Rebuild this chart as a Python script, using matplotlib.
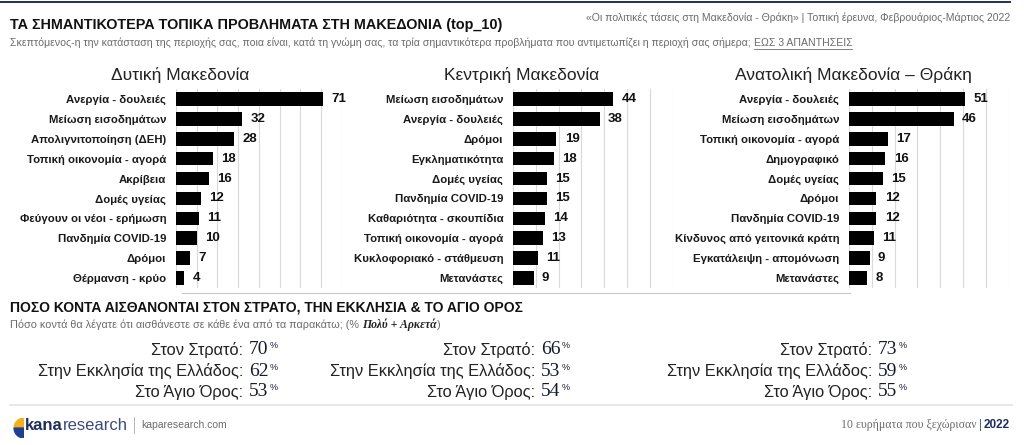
import matplotlib
matplotlib.use("Agg")
import matplotlib.pyplot as plt
from matplotlib import font_manager
from matplotlib.patches import Wedge

# --- data ---
west_labels = ["Ανεργία - δουλειές", "Μείωση εισοδημάτων", "Απολιγνιτοποίηση (ΔΕΗ)",
               "Τοπική οικονομία - αγορά", "Ακρίβεια", "Δομές υγείας",
               "Φεύγουν οι νέοι - ερήμωση", "Πανδημία COVID-19", "Δρόμοι", "Θέρμανση - κρύο"]
west_values = [71, 32, 28, 18, 16, 12, 11, 10, 7, 4]

central_labels = ["Μείωση εισοδημάτων", "Ανεργία - δουλειές", "Δρόμοι", "Εγκληματικότητα",
                  "Δομές υγείας", "Πανδημία COVID-19", "Καθαριότητα - σκουπίδια",
                  "Τοπική οικονομία - αγορά", "Κυκλοφοριακό - στάθμευση", "Μετανάστες"]
central_values = [44, 38, 19, 18, 15, 15, 14, 13, 11, 9]

east_labels = ["Ανεργία - δουλειές", "Μείωση εισοδημάτων", "Τοπική οικονομία - αγορά",
               "Δημογραφικό", "Δομές υγείας", "Δρόμοι", "Πανδημία COVID-19",
               "Κίνδυνος από γειτονικά κράτη", "Εγκατάλειψη - απομόνωση", "Μετανάστες"]
east_values = [51, 46, 17, 16, 15, 12, 12, 11, 9, 8]

region_titles = ["Δυτική Μακεδονία", "Κεντρική Μακεδονία", "Ανατολική Μακεδονία – Θράκη"]
region_xmax = [80, 70, 70]

close_labels = ["Στον Στρατό:", "Στην Εκκλησία της Ελλάδος:", "Στο Άγιο Όρος:"]
west_close = [70, 62, 53]
central_close = [66, 53, 54]
east_close = [73, 59, 55]

# --- fonts ---
available = {f.name for f in font_manager.fontManager.ttflist}
NARROW = "Liberation Sans Narrow" if "Liberation Sans Narrow" in available else "Liberation Sans"
SANS = "Liberation Sans"
SERIF = "Liberation Serif"
plt.rcParams["font.family"] = [SANS, "DejaVu Sans"]

W, H = 1024, 445
fig = plt.figure(figsize=(W / 100, H / 100), dpi=100)
fig.patch.set_facecolor("white")


def fx(x):
    return x / W


def fy(y):
    return 1 - y / H


navy = "#1f2f5c"
gray = "#6b6b6b"

# top rule
fig.add_artist(plt.Line2D([0, fx(1010)], [fy(2), fy(2)], color=navy, lw=1.4))

fig.text(fx(10), fy(25), "ΤΑ ΣΗΜΑΝΤΙΚΟΤΕΡΑ ΤΟΠΙΚΑ ΠΡΟΒΛΗΜΑΤΑ ΣΤΗ ΜΑΚΕΔΟΝΙΑ (top_10)",
         family=[NARROW, "DejaVu Sans"], weight="bold", fontsize=10.4, color="#111",
         va="center", ha="left")
fig.text(fx(1010), fy(18),
         "«Οι πολιτικές τάσεις στη Μακεδονία - Θράκη» | Τοπική έρευνα, Φεβρουάριος-Μάρτιος 2022",
         family=[NARROW, "DejaVu Sans"], fontsize=7.6, color=gray, va="center", ha="right")
sub = fig.text(fx(10), fy(43),
               "Σκεπτόμενος-η την κατάσταση της περιοχής σας, ποια είναι, κατά τη γνώμη σας, "
               "τα τρία σημαντικότερα προβλήματα που αντιμετωπίζει η περιοχή σας σήμερα; ",
               family=[NARROW, "DejaVu Sans"], fontsize=7.6, color=gray, va="center", ha="left")

fig.canvas.draw()
renderer = fig.canvas.get_renderer()
bb = sub.get_window_extent(renderer)
und = fig.text(bb.x1 / W, fy(43), "ΕΩΣ 3 ΑΠΑΝΤΗΣΕΙΣ", family=[NARROW, "DejaVu Sans"],
               fontsize=7.6, color=gray, va="center", ha="left")
ub = und.get_window_extent(renderer)
fig.add_artist(plt.Line2D([ub.x0 / W, ub.x1 / W], [fy(49), fy(49)], color=gray, lw=0.6))

# --- bar charts ---
panels = [
    (176, 80, west_labels, west_values),
    (513, 70, central_labels, central_values),
    (849, 70, east_labels, east_values),
]
title_x = [180, 522, 853]
for i, (x0, xmax, labels, values) in enumerate(panels):
    width_px = 80 * 2.07 if xmax == 80 else 70 * 2.28
    ax = fig.add_axes([fx(x0), fy(288), width_px / W, 199 / H])
    ypos = list(range(len(values)))
    ax.barh(ypos, values, height=0.68, color="black", zorder=3)
    ax.set_ylim(len(values) - 0.5, -0.5)
    ax.set_xlim(0, region_xmax[i])
    ax.set_xticks(range(0, region_xmax[i] + 1, 10))
    ax.grid(axis="x", color="#d9d9d9", lw=0.8, zorder=0)
    ax.tick_params(axis="x", length=0, labelbottom=False)
    ax.tick_params(axis="y", length=0, pad=7)
    ax.set_yticks(ypos)
    ax.set_yticklabels(labels, family=[NARROW, "DejaVu Sans"], weight="bold",
                       fontsize=8.2, color="#1a1a1a")
    for s in ax.spines.values():
        s.set_visible(False)
    for y, v in zip(ypos, values):
        ax.annotate(str(v), (v, y), xytext=(6, 0), textcoords="offset points",
                    va="center", ha="left", family=[NARROW, "DejaVu Sans"],
                    weight="bold", fontsize=9.5, color="#111")
    fig.text(fx(title_x[i]), fy(75), region_titles[i], fontsize=12.5, color="#222",
             ha="center", va="center")

# --- lower section ---
fig.add_artist(plt.Line2D([fx(182), fx(850)], [fy(293), fy(293)], color="#c8c8c8", lw=0.8))
fig.text(fx(10), fy(308), "ΠΟΣΟ ΚΟΝΤΑ ΑΙΣΘΑΝΟΝΤΑΙ ΣΤΟΝ ΣΤΡΑΤΟ, ΤΗΝ ΕΚΚΛΗΣΙΑ & ΤΟ ΑΓΙΟ ΟΡΟΣ",
         family=[NARROW, "DejaVu Sans"], weight="bold", fontsize=10, color="#111",
         va="center", ha="left")
q = fig.text(fx(10), fy(325), "Πόσο κοντά θα λέγατε ότι αισθάνεστε σε κάθε ένα από τα παρακάτω; (% ",
             family=[NARROW, "DejaVu Sans"], fontsize=7.8, color=gray, va="center", ha="left")
fig.canvas.draw()
qb = q.get_window_extent(renderer)
em = fig.text(qb.x1 / W, fy(325), "Πολύ + Αρκετά", family=[SERIF, "DejaVu Serif"],
              style="italic", weight="bold", fontsize=8.5, color="#222", va="center", ha="left")
fig.canvas.draw()
eb = em.get_window_extent(renderer)
fig.text(eb.x1 / W, fy(325), ")", family=[NARROW, "DejaVu Sans"], fontsize=7.8, color=gray,
         va="center", ha="left")

row_y = [350, 371, 392]
columns = [(243, west_close), (535, central_close), (872, east_close)]
pct_texts = []
for lx, vals in columns:
    for y, lab, v in zip(row_y, close_labels, vals):
        fig.text(fx(lx), fy(y), lab, fontsize=11.8, color="#222", ha="right", va="center")
        t = fig.text(fx(lx + 6), fy(y), str(v), family=[SERIF, "DejaVu Serif"],
                     fontsize=14, color="#151a30", ha="left", va="center")
        pct_texts.append((t, y))
fig.canvas.draw()
for t, y in pct_texts:
    tb = t.get_window_extent(renderer)
    fig.text(tb.x1 / W + 0.001, fy(y - 4), "%", fontsize=6.5, color="#151a30",
             ha="left", va="center")

fig.add_artist(plt.Line2D([fx(10), fx(1012)], [fy(405), fy(405)], color="#e3e3e3", lw=1.2))

# --- footer ---
logo_ax = fig.add_axes([fx(8), fy(438), 16 / W, 20 / H])
logo_ax.set_xlim(0, 1)
logo_ax.set_ylim(0, 1.25)
logo_ax.axis("off")
logo_ax.add_patch(Wedge((1, 0.62), 0.62, 90, 180, color="#f2b21b"))
logo_ax.add_patch(Wedge((1, 0.62), 0.62, 180, 270, color="#1f3f8f"))
k = fig.text(fx(25), fy(425), "kana", family=[SANS, "DejaVu Sans"], weight="bold",
             fontsize=12, color=navy, ha="left", va="center")
fig.canvas.draw()
kb = k.get_window_extent(renderer)
r = fig.text(kb.x1 / W, fy(425), "research", family=[SANS, "DejaVu Sans"],
             fontsize=12, color="#3b4a78", ha="left", va="center")
fig.canvas.draw()
rb = r.get_window_extent(renderer)
fig.add_artist(plt.Line2D([rb.x1 / W + 0.006] * 2, [fy(417), fy(433)], color="#aaaaaa", lw=0.6))
fig.text(rb.x1 / W + 0.013, fy(425), "kaparesearch.com", family=[NARROW, "DejaVu Sans"],
         fontsize=7.5, color=gray, ha="left", va="center")

yr = fig.text(fx(1010), fy(425), "2022", family=[NARROW, "DejaVu Sans"], weight="bold",
              fontsize=8.5, color=navy, ha="right", va="center")
fig.canvas.draw()
yb = yr.get_window_extent(renderer)
bar = fig.text(yb.x0 / W - 0.002, fy(425), "|", fontsize=8.5, color="#4a7a5a",
               ha="right", va="center")
fig.canvas.draw()
bb2 = bar.get_window_extent(renderer)
fig.text(bb2.x0 / W - 0.002, fy(425), "10 ευρήματα που ξεχώρισαν", family=[SERIF, "DejaVu Serif"],
         fontsize=8.5, color=gray, ha="right", va="center")

fig.savefig("out.png", dpi=100)
